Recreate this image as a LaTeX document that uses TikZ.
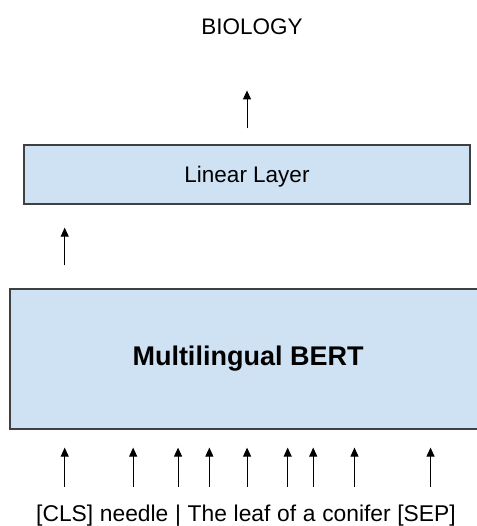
\documentclass[tikz,border=0pt]{standalone}
\usepackage{fontspec}
\setmainfont{Liberation Sans}
\usetikzlibrary{positioning,arrows.meta}
\definecolor{layerblue}{RGB}{207,226,243}
\definecolor{layerline}{RGB}{64,64,64}

\begin{document}
\begin{tikzpicture}[x=1pt, y=-1pt, >={Triangle[length=9pt,width=8pt]},
  layer/.style={draw=layerline, line width=1.2pt, fill=layerblue, inner sep=0pt},
  token/.style={inner sep=0pt, text height=16pt, text depth=5pt, font=\fontsize{22.8}{26}\selectfont},
  arr/.style={->, line width=1pt, black}]
\useasboundingbox (0,0) rectangle (476,526);

% Output label
\node[anchor=base, inner sep=0pt, font=\fontsize{22.5}{26}\selectfont] (bio) at (252,35) {BIOLOGY};

% Linear layer
\node[layer, minimum width=446pt, minimum height=59pt, text depth=0pt, font=\fontsize{22.5}{26}\selectfont] (lin) at (247,174.5) {Linear Layer};

% BERT
\node[layer, minimum width=476pt, minimum height=140pt, font=\bfseries\fontsize{27}{30}\selectfont] (bert) at (248,359) {Multilingual BERT};

% Input tokens
\node[token, anchor=base west] (cls) at (36,521) {[CLS]};
\node[token, base right=6.3pt of cls] (needle) {needle};
\node[token, base right=6.3pt of needle] (bar) {|};
\node[token, base right=6.3pt of bar] (the) {The};
\node[token, base right=6.3pt of the] (leaf) {leaf};
\node[token, base right=6.3pt of leaf] (of) {of};
\node[token, base right=6.3pt of of] (a) {a};
\node[token, base right=6.3pt of a] (conifer) {conifer};
\node[token, base right=6.3pt of conifer] (sep) {[SEP]};

% Arrows
\draw[arr, shorten <=16pt, shorten >=55pt] (lin.north) -- (lin.north |- bio.south);
\draw[arr, shorten <=23pt, shorten >=23pt] (cls |- bert.north) -- (cls |- lin.south);
\foreach \t/\dx in {cls/0,needle/-1,bar/0,the/2,leaf/-5,of/1,a/4,conifer/-2,sep/4}
  \draw[arr, shorten <=18pt, shorten >=18pt] ([xshift=\dx pt]\t.north) -- ([xshift=\dx pt]\t.north |- bert.south);
\end{tikzpicture}
\end{document}
